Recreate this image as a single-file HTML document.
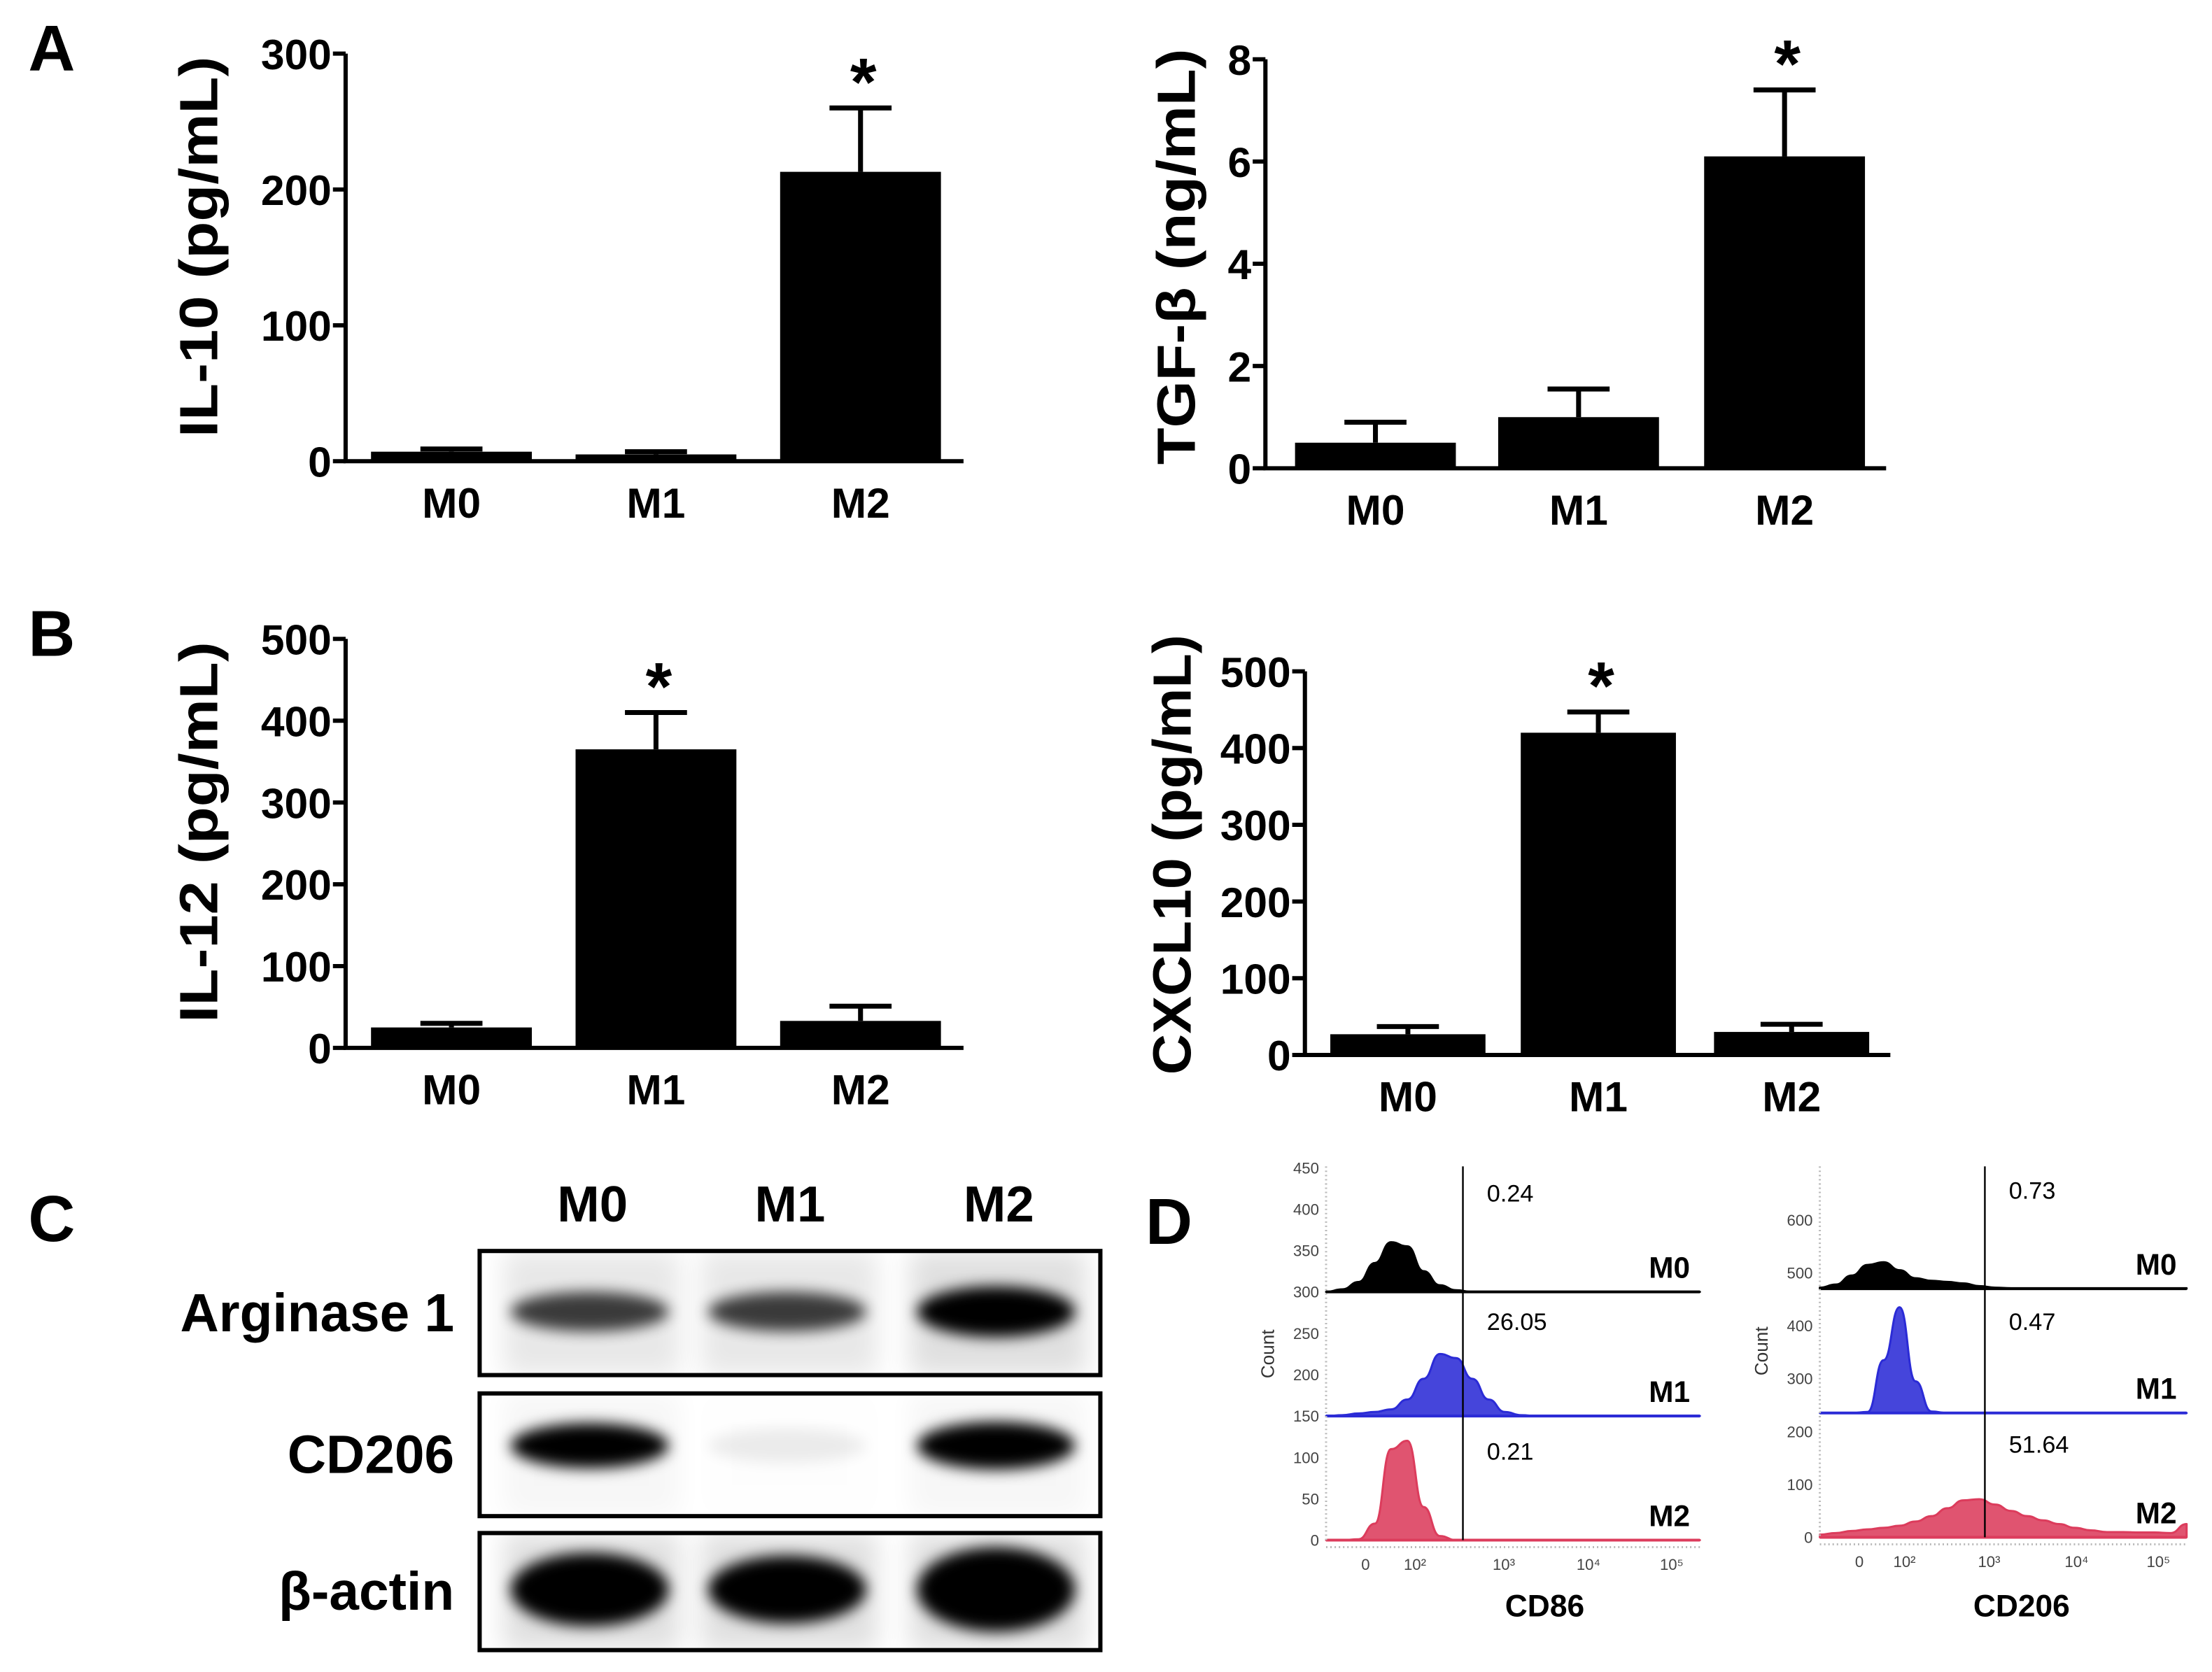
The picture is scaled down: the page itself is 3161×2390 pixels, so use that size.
<!DOCTYPE html>
<html><head><meta charset="utf-8">
<style>
html,body{margin:0;padding:0;background:#fff;}
svg{display:block;}
text{font-family:"Liberation Sans",Arial,sans-serif;}
</style></head>
<body>
<svg id="fig" width="3161" height="2390" viewBox="0 0 1568 1185.5" xmlns="http://www.w3.org/2000/svg">
<defs>
<filter id="blur4" x="-30%" y="-100%" width="160%" height="300%"><feGaussianBlur stdDeviation="5"/></filter>
<filter id="blur8" x="-30%" y="-100%" width="160%" height="300%"><feGaussianBlur stdDeviation="9"/></filter>
</defs>
<g id="root"></g>
</svg>
<script>
// ---------- Bar chart data ----------
const categories = ["M0","M1","M2"];
const il10Values = [7, 5, 213];
const il10Errors = [2, 2, 47];
const il10Ticks = [0, 100, 200, 300];
const tgfValues = [0.5, 1.0, 6.1];
const tgfErrors = [0.4, 0.55, 1.3];
const tgfTicks = [0, 2, 4, 6, 8];
const il12Values = [25, 365, 33];
const il12Errors = [5, 45, 18];
const il12Ticks = [0, 100, 200, 300, 400, 500];
const cxcl10Values = [27, 420, 30];
const cxcl10Errors = [10, 27, 10];
const cxcl10Ticks = [0, 100, 200, 300, 400, 500];
const il10Star = [false, false, true];
const tgfStar = [false, false, true];
const il12Star = [false, true, false];
const cxcl10Star = [false, true, false];

// ---------- Flow histogram data (counts per bin, 24 bins) ----------
const cd86M0 = [0,3,12,35,60,55,25,8,2,0,0,0,0,0,0,0,0,0,0,0,0,0,0,0];
const cd86M1 = [0,1,3,5,8,20,45,75,70,45,20,5,1,0,0,0,0,0,0,0,0,0,0,0];
const cd86M2 = [0,0,1,20,110,120,40,5,0,0,0,0,0,0,0,0,0,0,0,0,0,0,0,0];
const cd206M0 = [2,8,25,45,50,35,20,15,13,10,5,2,1,1,1,1,1,1,1,1,1,1,1,1];
const cd206M1 = [0,0,0,2,100,200,60,3,0,0,0,0,0,0,0,0,0,0,0,0,0,0,0,0];
const cd206M2 = [5,8,12,15,18,22,30,40,55,70,72,62,50,40,32,25,18,13,10,10,9,9,8,25];
const cd86Pct = ["0.24","26.05","0.21"];
const cd206Pct = ["0.73","0.47","51.64"];
const cd86YTicks = [0,50,100,150,200,250,300,350,400,450];
const cd206YTicks = [0,100,200,300,400,500,600];
const xTickLabels = ["0","10²","10³","10⁴","10⁵"];

const NS = "http://www.w3.org/2000/svg";
const root = document.getElementById("root");
function mk(tag, attrs, parent, txt){
  const e = document.createElementNS(NS, tag);
  for (const k in attrs) e.setAttribute(k, attrs[k]);
  if (txt !== undefined) e.textContent = txt;
  (parent || root).appendChild(e);
  return e;
}

function barChart(o){
  const g = mk("g", {});
  
  
  const max = o.ticks[o.ticks.length-1];
  const y = v => o.y0 - (v/max)*(o.y0 - o.yTop);
  const x = i => o.centers[i];
  o.values.forEach((v,i)=>{
    const hw = o.hw;
    const top = y(v+o.errors[i]);
    const eb = mk("path", {d:`M${x(i)} ${y(v)} V${top} M${x(i)-22} ${top} H${x(i)+22}`, stroke:"#000","stroke-width":3.5, fill:"none"}, g);
    
    
    const r = mk("rect", {x:x(i)-hw, y:y(v), width:hw*2, height:Math.max(o.y0-y(v),3), fill:"#000"}, g);
    
    
    if (o.star[i]) {
      const s = mk("text", {x:x(i)+2, y:top-2, "text-anchor":"middle", "font-size":48, "font-weight":"bold"}, g, "*");
      
      
    }
    const cl = mk("text", {x:x(i), y:o.y0+40, "text-anchor":"middle", "font-size":30, "font-weight":"bold"}, g, categories[i]);
    
    
  });
  const ax = mk("path", {d:`M${o.ax} ${o.yTop} V${o.y0} H${o.ax1}`, stroke:"#000","stroke-width":3, fill:"none"}, g);
  
  
  o.ticks.forEach(t=>{
    mk("line", {x1:o.ax-9, x2:o.ax, y1:y(t), y2:y(t), stroke:"#000","stroke-width":3}, g);
    const tl = mk("text", {x:o.ax-10, y:y(t)+11, "text-anchor":"end", "font-size":30, "font-weight":"bold"}, g, String(t));
    
    
  });
  const ti = mk("text", {x:0, y:0, transform:`translate(${o.titleX} ${o.titleY}) rotate(-90)`, "text-anchor":"middle", "font-size":38, "font-weight":"bold", textLength:o.titleLen, lengthAdjust:"spacingAndGlyphs"}, g, o.title);
  
  
}

barChart({name:"il10-chart", values:il10Values, errors:il10Errors, ticks:il10Ticks, star:il10Star, ax:245, ax1:683, yTop:38, y0:327, centers:[320,465,610], hw:57, titleX:154, titleY:175, titleLen:270, title:"IL-10 (pg/mL)"});
barChart({name:"tgf-beta-chart", values:tgfValues, errors:tgfErrors, ticks:tgfTicks, star:tgfStar, ax:897, ax1:1337, yTop:42, y0:332, centers:[975,1119,1265], hw:57, titleX:847, titleY:182, titleLen:295, title:"TGF-β (ng/mL)"});
barChart({name:"il12-chart", values:il12Values, errors:il12Errors, ticks:il12Ticks, star:il12Star, ax:245, ax1:683, yTop:453, y0:743, centers:[320,465,610], hw:57, titleX:154, titleY:590, titleLen:270, title:"IL-12 (pg/mL)"});
barChart({name:"cxcl10-chart", values:cxcl10Values, errors:cxcl10Errors, ticks:cxcl10Ticks, star:cxcl10Star, ax:925, ax1:1340, yTop:476, y0:748, centers:[998,1133,1270], hw:55, titleX:844, titleY:606, titleLen:312, title:"CXCL10 (pg/mL)"});

// Panel letters
[["A",20,50],["B",20,465],["C",20,880],["D",812,882]].forEach(p=>{
  const t = mk("text", {x:p[1], y:p[2], "font-size":46, "font-weight":"bold"}, root, p[0]);
  
  
});

// ---------- Panel C: western blot ----------
const gC = mk("g", {});


const lanes = [417, 557, 705];
["M0","M1","M2"].forEach((c,i)=>{
  const t = mk("text", {x:lanes[i]+3, y:866, "text-anchor":"middle", "font-size":36, "font-weight":"bold"}, gC, c);
  
  
});
const rows = [
  {name:"Arginase 1", y0:887, y1:975, by:930, op:[0.75,0.75,1], h:[14,14,18], haze:0.12},
  {name:"CD206", y0:988, y1:1075, by:1025, op:[1,0.07,1], h:[16,12,17], haze:0.03},
  {name:"β-actin", y0:1087, y1:1170, by:1127, op:[1,1,1], h:[26,24,30], haze:0.12}
];
rows.forEach(r=>{
  const lbl = mk("text", {x:322, y:(r.y0+r.y1)/2+13, "text-anchor":"end", "font-size":38, "font-weight":"bold"}, gC, r.name);
  
  
  const clip = "clip" + r.y0;
  const cp = mk("clipPath", {id:clip}, gC);
  mk("rect", {x:340, y:r.y0, width:440, height:r.y1-r.y0}, cp);
  const bg = mk("g", {"clip-path":`url(#${clip})`}, gC);
  lanes.forEach((lx,i)=>{
    mk("rect", {x:lx-60, y:r.y0, width:125, height:r.y1-r.y0, fill:"#000", opacity:r.haze*r.op[i], filter:"url(#blur8)"}, bg);
    const band = mk("ellipse", {cx:lx+1, cy:r.by, rx:56, ry:r.h[i], fill:"#000", opacity:r.op[i], filter:"url(#blur4)"}, bg);
    
    
  });
  const bx = mk("rect", {x:340, y:r.y0, width:440, height:r.y1-r.y0, fill:"none", stroke:"#000", "stroke-width":3}, gC);
  
  
});

// ---------- Panel D: flow histograms ----------
function flowPanel(o){
  const g = mk("g", {});
  
  
  const yv = v => o.y0 - v*o.pxPerCount;
  const nb = 24;
  const xb = i => o.x0 + (o.x1 - o.x0) * i/(nb-1);
  const colors = ["#000","#2b2bd6","#dc3c5c"];
  const labs = ["M0","M1","M2"];
  o.series.forEach((s,k)=>{
    const base = yv(o.bases[k]);
    const pts = s.map((c,i)=>[xb(i), base - c*o.pxPerCount]);
    let d = `M${o.x0} ${base} L${pts[0][0]} ${pts[0][1]}`;
    for (let i=1;i<pts.length;i++){
      const p0 = pts[i-1], p1 = pts[i], mx = (p0[0]+p1[0])/2;
      d += ` C${mx.toFixed(1)} ${p0[1].toFixed(1)} ${mx.toFixed(1)} ${p1[1].toFixed(1)} ${p1[0].toFixed(1)} ${p1[1].toFixed(1)}`;
    }
    d += ` L${o.x1} ${base} Z`;
    const p = mk("path", {d, fill:colors[k], "fill-opacity":k==0?1:0.88, stroke:colors[k], "stroke-width":1.5, "stroke-linejoin":"round"}, g);
    
    
    mk("line", {x1:o.x0, x2:o.x1, y1:base, y2:base, stroke:colors[k], "stroke-width":2}, g);
    const ll = mk("text", {x:o.x1-7, y:base-10, "text-anchor":"end", "font-size":21, "font-weight":"bold"}, g, labs[k]);
    
    
    const pt = mk("text", {x:o.gate+17, y:o.pctY[k], "font-size":17}, g, o.pct[k]);
    
    
  });
  const gl = mk("line", {x1:o.gate, x2:o.gate, y1:o.gateTop, y2:o.y0, stroke:"#000","stroke-width":1.2}, g);
  
  
  mk("line", {x1:o.x0, x2:o.x0, y1:o.gateTop, y2:o.y0, stroke:"#bbb","stroke-width":1.5, "stroke-dasharray":"1 2"}, g);
  mk("line", {x1:o.x0, x2:o.x1, y1:o.y0+5, y2:o.y0+5, stroke:"#bbb","stroke-width":1.5, "stroke-dasharray":"1 2"}, g);
  o.yTicks.forEach(t=>{
    const tl = mk("text", {x:o.x0-5, y:yv(t)+4, "text-anchor":"end", "font-size":11, fill:"#444"}, g, String(t));
    
    
  });
  xTickLabels.forEach((t,i)=>{
    const tl = mk("text", {x:o.xt[i], y:o.y0+21, "text-anchor":"middle", "font-size":11, fill:"#444"}, g, t);
    
    
  });
  const c = mk("text", {x:0, y:0, transform:`translate(${o.x0-37} ${o.countY}) rotate(-90)`, "text-anchor":"middle", "font-size":13, fill:"#333"}, g, "Count");
  
  
  const xt = mk("text", {x:o.titleX, y:1146, "text-anchor":"middle", "font-size":22, "font-weight":"bold"}, g, o.title);
  
  
}
flowPanel({name:"cd86-histogram", series:[cd86M0,cd86M1,cd86M2], bases:[300,150,0], pct:cd86Pct, yTicks:cd86YTicks,
  x0:940, x1:1205, y0:1092, pxPerCount:88/150, gate:1037, gateTop:827, pctY:[852,943,1035], xt:[968,1003,1066,1126,1185], countY:960, titleX:1095, title:"CD86"});
flowPanel({name:"cd206-histogram", series:[cd206M0,cd206M1,cd206M2], bases:[470,235,0], pct:cd206Pct, yTicks:cd206YTicks,
  x0:1290, x1:1550, y0:1090, pxPerCount:0.375, gate:1407, gateTop:827, pctY:[850,943,1030], xt:[1318,1350,1410,1472,1530], countY:958, titleX:1433, title:"CD206"});
</script>
</body></html>
